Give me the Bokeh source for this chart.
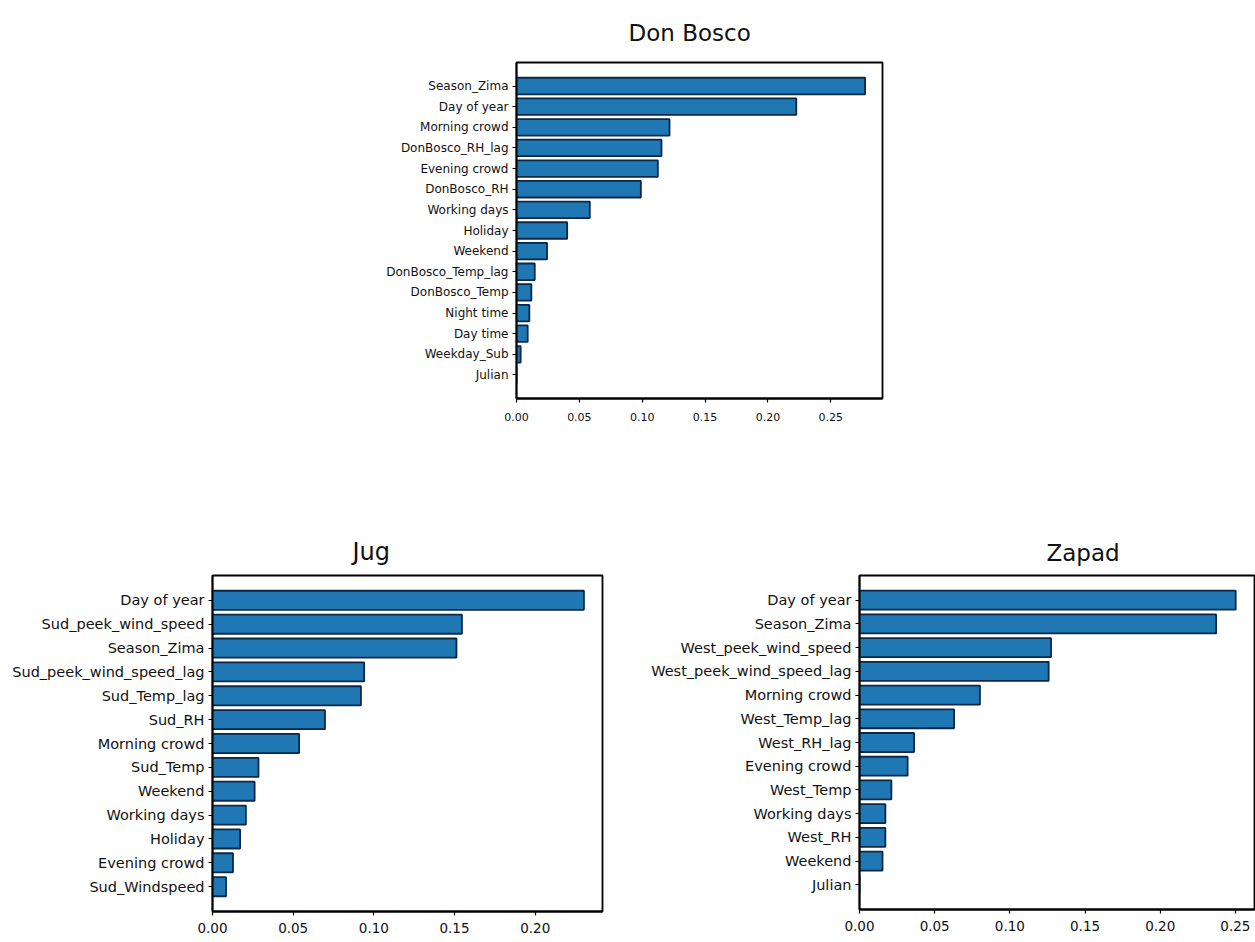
from bokeh.plotting import figure
from bokeh.layouts import column, row
from bokeh.models import Range1d, FixedTicker, NumeralTickFormatter
from bokeh.embed import file_html
from bokeh.resources import INLINE

# ---------------- data ----------------
db_features = ["Season_Zima", "Day of year", "Morning crowd", "DonBosco_RH_lag",
               "Evening crowd", "DonBosco_RH", "Working days", "Holiday", "Weekend",
               "DonBosco_Temp_lag", "DonBosco_Temp", "Night time", "Day time",
               "Weekday_Sub", "Julian"]
db_importance = [0.2772, 0.2225, 0.1217, 0.1153, 0.1124, 0.0989, 0.0583, 0.0403,
                 0.0243, 0.0145, 0.0118, 0.0102, 0.0089, 0.0033, 0.0]

jug_features = ["Day of year", "Sud_peek_wind_speed", "Season_Zima",
                "Sud_peek_wind_speed_lag", "Sud_Temp_lag", "Sud_RH", "Morning crowd",
                "Sud_Temp", "Weekend", "Working days", "Holiday", "Evening crowd",
                "Sud_Windspeed"]
jug_importance = [0.2302, 0.1546, 0.1512, 0.0940, 0.0920, 0.0697, 0.0537, 0.0285,
                  0.0261, 0.0207, 0.0171, 0.0127, 0.0084]

zapad_features = ["Day of year", "Season_Zima", "West_peek_wind_speed",
                  "West_peek_wind_speed_lag", "Morning crowd", "West_Temp_lag",
                  "West_RH_lag", "Evening crowd", "West_Temp", "Working days", "West_RH",
                  "Weekend", "Julian"]
zapad_importance = [0.2502, 0.2372, 0.1274, 0.1258, 0.0801, 0.0629, 0.0363, 0.0320,
                    0.0212, 0.0172, 0.0172, 0.0153, 0.0]

db_ticks = [0.0, 0.05, 0.10, 0.15, 0.20, 0.25]
jug_ticks = [0.0, 0.05, 0.10, 0.15, 0.20]
zapad_ticks = [0.0, 0.05, 0.10, 0.15, 0.20, 0.25]

FONT = "DejaVu Sans"


def make_panel(title, features, values, xticks, frame_w, frame_h, bl, bt, bb, br,
               ylab_px, xlab_px, title_px, title_offset, title_standoff, xstandoff):
    n = len(features)
    ys = [float(n - 1 - i) for i in range(n)]  # first feature at the top
    span = n - 0.2
    yr = Range1d(-0.4 - 0.05 * span, n - 0.6 + 0.05 * span)
    xr = Range1d(0, max(values) * 1.05)
    p = figure(width=bl + frame_w + br, height=bt + frame_h + bb,
               x_range=xr, y_range=yr, output_backend="svg", toolbar_location=None,
               min_border_left=bl, min_border_right=br, min_border_top=bt,
               min_border_bottom=bb)
    p.hbar(y=ys, right=values, left=0, height=0.8, fill_color="#1f77b4",
           line_color="#0a2846", line_width=1.8)

    p.title.text = title
    p.title.align = "left"
    p.title.offset = title_offset
    p.title.standoff = title_standoff
    p.title.text_font = FONT
    p.title.text_font_size = f"{title_px}px"
    p.title.text_font_style = "normal"
    p.title.text_color = "#111111"

    p.xgrid.visible = False
    p.ygrid.visible = False
    p.background_fill_color = "white"
    p.border_fill_color = "white"
    p.outline_line_color = "black"
    p.outline_line_width = 1.8
    p.outline_line_alpha = 1.0

    p.xaxis.ticker = FixedTicker(ticks=xticks)
    p.xaxis.formatter = NumeralTickFormatter(format="0.00")
    p.yaxis.ticker = FixedTicker(ticks=ys)
    p.yaxis.major_label_overrides = {y: f for y, f in zip(ys, features)}

    for ax in (p.xaxis[0], p.yaxis[0]):
        ax.axis_line_color = "black"
        ax.axis_line_width = 1.8
        ax.major_tick_line_color = "black"
        ax.major_tick_line_width = 1.2
        ax.major_tick_in = 0
        ax.major_tick_out = 4
        ax.minor_tick_line_color = None
        ax.major_label_text_font = FONT
        ax.major_label_text_color = "#111111"
    p.yaxis.major_label_text_font_size = f"{ylab_px}px"
    p.yaxis.major_label_standoff = 4
    p.xaxis.major_label_text_font_size = f"{xlab_px}px"
    p.xaxis.major_label_standoff = xstandoff
    return p


p_db = make_panel("Don Bosco", db_features, db_importance, db_ticks,
                  frame_w=366, frame_h=337, bl=516, bt=61, bb=40, br=10,
                  ylab_px=12, xlab_px=11, title_px=23, title_offset=112,
                  title_standoff=34, xstandoff=10)

p_jug = make_panel("Jug", jug_features, jug_importance, jug_ticks,
                   frame_w=390, frame_h=337, bl=212, bt=137, bb=30, br=20,
                   ylab_px=14.5, xlab_px=13.5, title_px=24, title_offset=140,
                   title_standoff=19, xstandoff=7)

p_zap = make_panel("Zapad", zapad_features, zapad_importance, zapad_ticks,
                   frame_w=395, frame_h=336, bl=237, bt=135, bb=31, br=1,
                   ylab_px=14.5, xlab_px=13.5, title_px=23, title_offset=187,
                   title_standoff=20, xstandoff=7)

layout = column(p_db, row(p_jug, p_zap))

open("out.html", "w").write(file_html(layout, INLINE))
